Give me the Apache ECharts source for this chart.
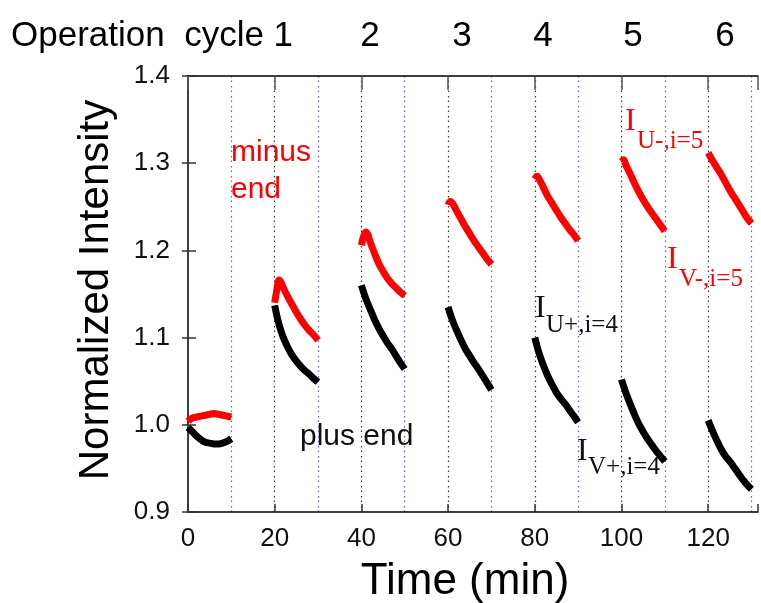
<!DOCTYPE html>
<html>
<head>
<meta charset="utf-8">
<script src="https://cdn.jsdelivr.net/npm/echarts@6/dist/echarts.min.js"></script>
<style>
html,body{margin:0;padding:0;background:#fff;}
#chart{width:761px;height:603px;}
</style>
</head>
<body>
<div id="chart"></div>
<script>
// Minus end (red) segments: [time (min), normalized intensity]
var minusSeg0 = [[0,1.004],[1,1.008],[2,1.009],[3,1.010],[4,1.011],[5,1.012],[6,1.013],[7,1.012],[8,1.011],[9,1.010],[10,1.009]];
var minusSeg1 = [[20,1.140],[20.5,1.155],[21,1.166],[21.5,1.163],[22,1.157],[23,1.147],[24,1.138],[25,1.129],[26,1.121],[27,1.114],[28,1.108],[29,1.103],[30,1.097]];
var minusSeg2 = [[40,1.206],[40.5,1.216],[41,1.221],[41.5,1.218],[42,1.210],[43,1.197],[44,1.185],[45,1.176],[46,1.168],[47,1.162],[48,1.157],[49,1.152],[50,1.148]];
var minusSeg3 = [[60,1.252],[60.5,1.256],[61,1.254],[62,1.245],[63,1.236],[64,1.227],[65,1.219],[66,1.211],[67,1.204],[68,1.197],[69,1.190],[70,1.184]];
var minusSeg4 = [[80,1.282],[80.5,1.285],[81,1.282],[82,1.272],[83,1.262],[84,1.254],[85,1.246],[86,1.238],[87,1.231],[88,1.224],[89,1.218],[90,1.211]];
var minusSeg5 = [[100,1.302],[100.5,1.304],[101,1.298],[102,1.288],[103,1.277],[104,1.267],[105,1.258],[106,1.250],[107,1.243],[108,1.236],[109,1.229],[110,1.222]];
var minusSeg6 = [[120,1.312],[121,1.303],[122,1.295],[123,1.287],[124,1.278],[125,1.269],[126,1.261],[127,1.253],[128,1.245],[129,1.237],[130,1.231]];

// Plus end (black) segments
var plusSeg0 = [[0,0.997],[1,0.992],[2,0.987],[3,0.983],[4,0.980],[5,0.979],[6,0.978],[7,0.978],[8,0.979],[9,0.981],[10,0.984]];
var plusSeg1 = [[20,1.137],[20.5,1.125],[21,1.115],[21.5,1.107],[22,1.100],[23,1.089],[24,1.080],[25,1.073],[26,1.067],[27,1.062],[28,1.058],[29,1.053],[30,1.049]];
var plusSeg2 = [[40,1.160],[41,1.145],[42,1.133],[43,1.121],[44,1.111],[45,1.102],[46,1.094],[47,1.087],[48,1.079],[49,1.071],[50,1.064]];
var plusSeg3 = [[60,1.135],[61,1.120],[62,1.108],[63,1.097],[64,1.087],[65,1.079],[66,1.071],[67,1.064],[68,1.056],[69,1.048],[70,1.040]];
var plusSeg4 = [[80,1.100],[81,1.082],[82,1.068],[83,1.056],[84,1.046],[85,1.037],[86,1.030],[87,1.024],[88,1.017],[89,1.010],[90,1.003]];
var plusSeg5 = [[100,1.052],[101,1.037],[102,1.024],[103,1.012],[104,1.001],[105,0.992],[106,0.984],[107,0.977],[108,0.970],[109,0.964],[110,0.958]];
var plusSeg6 = [[120,1.005],[121,0.993],[122,0.982],[123,0.972],[124,0.964],[125,0.958],[126,0.951],[127,0.944],[128,0.937],[129,0.931],[130,0.926]];

var cycleLabels = ['2','3','4','5','6'];

var minusSegs = [minusSeg0, minusSeg1, minusSeg2, minusSeg3, minusSeg4, minusSeg5, minusSeg6];
var plusSegs = [plusSeg0, plusSeg1, plusSeg2, plusSeg3, plusSeg4, plusSeg5, plusSeg6];

var SANS = "'Liberation Sans', Arial, sans-serif";
var SERIF = "'Liberation Serif', 'Times New Roman', serif";

var series = [];
minusSegs.forEach(function (d) {
  series.push({type:'line', data:d, showSymbol:false, symbol:'none', smooth:0.3, z:3,
    lineStyle:{color:'#ff0000', width:7, type:'solid', cap:'butt', join:'round'}, silent:true});
});
plusSegs.forEach(function (d) {
  series.push({type:'line', data:d, showSymbol:false, symbol:'none', smooth:0.3, z:3,
    lineStyle:{color:'#000000', width:7, type:'solid', cap:'butt', join:'round'}, silent:true});
});

var cycleX = [370, 462, 543, 633, 725];
var graphics = [
  {type:'text', x:11, y:36, style:{text:'Operation  cycle 1', font:'35px ' + SANS, fill:'#000', verticalAlign:'middle', align:'left'}},
  {type:'text', x:96, y:290, rotation:Math.PI/2, style:{text:'Normalized Intensity', font:'42px ' + SANS, fill:'#000', verticalAlign:'middle', align:'center'}},
  {type:'text', x:465, y:582, style:{text:'Time (min)', font:'44px ' + SANS, fill:'#000', verticalAlign:'middle', align:'center'}},
  {type:'text', x:231, y:153, style:{text:'minus', font:'30px ' + SANS, fill:'#ff0000', verticalAlign:'middle', align:'left'}},
  {type:'text', x:231, y:190, style:{text:'end', font:'30px ' + SANS, fill:'#ff0000', verticalAlign:'middle', align:'left'}},
  {type:'text', x:300, y:437, style:{text:'plus end', font:'30px ' + SANS, fill:'#111', verticalAlign:'middle', align:'left'}},
  {type:'text', x:625, y:122, style:{text:'I', font:'32px ' + SERIF, fill:'#ff0000', verticalAlign:'middle', align:'left'}},
  {type:'text', x:637, y:141, style:{text:'U-,i=5', font:'25px ' + SERIF, fill:'#ff0000', verticalAlign:'middle', align:'left'}},
  {type:'text', x:667, y:260, style:{text:'I', font:'32px ' + SERIF, fill:'#ff0000', verticalAlign:'middle', align:'left'}},
  {type:'text', x:679, y:279, style:{text:'V-,i=5', font:'25px ' + SERIF, fill:'#ff0000', verticalAlign:'middle', align:'left'}},
  {type:'text', x:535, y:309, style:{text:'I', font:'32px ' + SERIF, fill:'#111', verticalAlign:'middle', align:'left'}},
  {type:'text', x:546, y:325, style:{text:'U+,i=4', font:'25px ' + SERIF, fill:'#111', verticalAlign:'middle', align:'left'}},
  {type:'text', x:577, y:452, style:{text:'I', font:'32px ' + SERIF, fill:'#111', verticalAlign:'middle', align:'left'}},
  {type:'text', x:588, y:467, style:{text:'V+,i=4', font:'25px ' + SERIF, fill:'#111', verticalAlign:'middle', align:'left'}}
];
cycleLabels.forEach(function (t, i) {
  graphics.push({type:'text', x:cycleX[i], y:36, style:{text:t, font:'35px ' + SANS, fill:'#000', verticalAlign:'middle', align:'center'}});
});

var chart = echarts.init(document.getElementById('chart'), null, {renderer:'canvas'});
chart.setOption({
  animation:false,
  backgroundColor:'#fff',
  grid:{left:188, right:0, top:76, bottom:91, containLabel:false},
  xAxis:[
    {type:'value', position:'bottom', min:0, max:131.5, interval:20,
      axisLine:{show:true, onZero:false, lineStyle:{color:'#000', width:1.5}},
      axisTick:{show:true, inside:true, length:8, lineStyle:{color:'#333', width:1.5}},
      axisLabel:{show:true, margin:14, fontSize:26, fontFamily:SANS, color:'#111',
        formatter:function(v){ return (Math.abs(v % 20) < 1e-6) ? String(v) : ''; }},
      splitLine:{show:false}},
    {type:'value', position:'top', min:0, max:131.5, interval:20,
      axisLine:{show:true, onZero:false, lineStyle:{color:'#000', width:1.5}},
      axisTick:{show:true, inside:true, length:14, lineStyle:{color:'#555', width:1.5}},
      axisLabel:{show:false}, splitLine:{show:false}},
    {type:'value', position:'bottom', min:0, max:131.5, interval:10,
      axisLine:{show:false}, axisTick:{show:false}, axisLabel:{show:false},
      splitLine:{show:true, showMinLine:false, showMaxLine:false,
        lineStyle:{color:['#5a5aff','#333333'], width:1.2, type:[1.5,3,1.5,4]}}}
  ],
  yAxis:[
    {type:'value', position:'left', min:0.9, max:1.4, interval:0.1,
      axisLine:{show:true, onZero:false, lineStyle:{color:'#000', width:1.5}},
      axisTick:{show:true, inside:true, length:8, lineStyle:{color:'#333', width:1.5}},
      axisLabel:{show:true, margin:18, fontSize:26, fontFamily:SANS, color:'#111',
        formatter:function(v){ return v.toFixed(1); }},
      splitLine:{show:false}},
    {type:'value', position:'right', min:0.9, max:1.4, interval:0.1,
      axisLine:{show:false},
      axisTick:{show:true, inside:true, length:6, lineStyle:{color:'#333', width:1.5}},
      axisLabel:{show:false}, splitLine:{show:false}}
  ],
  series:series,
  graphic:graphics
});
</script>
</body>
</html>
